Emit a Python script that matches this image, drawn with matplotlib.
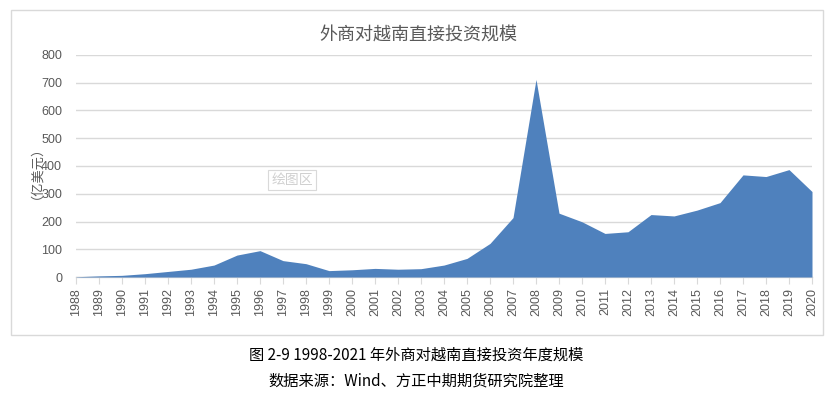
import matplotlib
matplotlib.use("Agg")
import matplotlib.pyplot as plt
from matplotlib.patches import Rectangle

years = list(range(1988, 2021))
values = [1, 4, 6, 12, 20, 28, 43, 79, 95, 59, 48, 23, 26, 31, 28, 30,
          43, 67, 121, 214, 712, 230, 199, 157, 163, 225, 220, 241, 268,
          368, 362, 387, 308]
yticks = [0, 100, 200, 300, 400, 500, 600, 700, 800]

title = "外商对越南直接投资规模"
ylabel = "（亿美元）"
caption1 = "图 2-9 1998-2021 年外商对越南直接投资年度规模"
caption2 = "数据来源：Wind、方正中期期货研究院整理"

W, H = 831, 395
fig = plt.figure(figsize=(W / 100, H / 100), dpi=100)
fig.patch.set_facecolor("white")

cjk = ["Noto Sans CJK SC", "DejaVu Sans"]
num = ["Liberation Sans", "DejaVu Sans"]
gray = "#595959"

# outer chart border
fig.add_artist(Rectangle((11 / W, 1 - 335 / H), (823 - 11) / W, (335 - 10) / H,
                         transform=fig.transFigure, fill=False,
                         edgecolor="#d9d9d9", linewidth=1.0))

ax = fig.add_axes([76 / W, 1 - 277 / H, (812 - 76) / W, (277 - 55) / H])
x = list(range(len(years)))
ax.fill_between(x, values, 0, color="#4f81bd", linewidth=0, zorder=3)
ax.set_xlim(0, len(years) - 1)
ax.set_ylim(0, 800)
ax.set_yticks(yticks)
ax.set_yticklabels([str(v) for v in yticks], family=num, fontsize=9, color=gray)
ax.set_xticks(x)
ax.set_xticklabels([str(y) for y in years], rotation=90, family=num,
                   fontsize=9, color=gray)
ax.grid(axis="y", color="#d9d9d9", linewidth=1.0, zorder=0)
ax.set_axisbelow(True)
for s in ["top", "right", "left"]:
    ax.spines[s].set_visible(False)
ax.spines["bottom"].set_color("#d9d9d9")
ax.spines["bottom"].set_linewidth(1.0)
ax.tick_params(axis="x", length=5, color="#d9d9d9", pad=3)
ax.tick_params(axis="y", length=0, pad=10)

fig.text(30 / W, 1 - 166 / H, ylabel, rotation=90, ha="center", va="center",
         family=cjk, fontsize=9.5, color=gray)
fig.text(418 / W, 1 - 36 / H, title, ha="center", va="center",
         family=cjk, fontsize=13, color=gray)

# "绘图区" hover label
fig.text(292 / W, 1 - 180 / H, "绘图区", ha="center", va="center",
         family=cjk, fontsize=10, color="#d0d0d0",
         bbox=dict(boxstyle="square,pad=0.25", facecolor="white",
                   edgecolor="#d9d9d9", linewidth=0.8))

fig.text(416 / W, 1 - 355 / H, caption1, ha="center", va="center",
         family=cjk, fontsize=11, color="black")
fig.text(416 / W, 1 - 381 / H, caption2, ha="center", va="center",
         family=cjk, fontsize=11, color="black")

fig.savefig("out.png", dpi=100, facecolor="white")
